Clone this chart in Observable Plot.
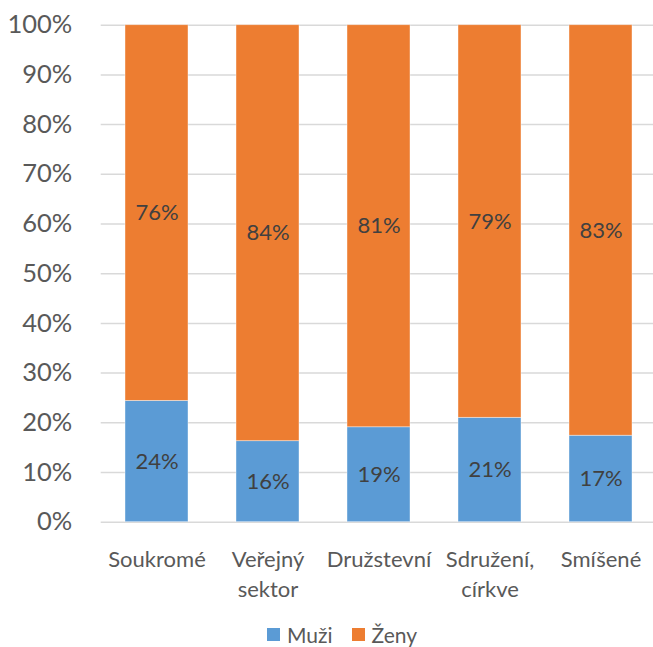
<!DOCTYPE html>
<html>
<head>
<meta charset="utf-8">
<script src="https://cdn.jsdelivr.net/npm/d3@7"></script>
<script src="https://cdn.jsdelivr.net/npm/@observablehq/plot@0.6"></script>
<style>
  html, body { margin: 0; padding: 0; background: #fff; }
  #wrap { position: relative; width: 653px; height: 647px; font-family: Lato, "Noto Sans", sans-serif; }
  #legend { position: absolute; left: 267px; top: 624px; display: flex; align-items: center; font-size: 21px; color: #595959; line-height: 1; }
  #legend .item { display: flex; align-items: center; margin-right: 19px; }
  #legend .sw { width: 13.4px; height: 13.4px; margin-right: 6.6px; }
</style>
</head>
<body>
<div id="wrap"><div id="chart"></div><div id="legend"></div></div>
<script>
const categories = ["Soukromé", "Veřejný sektor", "Družstevní", "Sdružení, církve", "Smíšené"];
const categoryLabels = ["Soukromé", "Veřejný\nsektor", "Družstevní", "Sdružení,\ncírkve", "Smíšené"];
const series = ["Muži", "Ženy"];
const colors = ["#5B9BD5", "#ED7D31"];
const muzi = [0.244, 0.163, 0.191, 0.210, 0.174];
const zeny = [0.756, 0.837, 0.809, 0.790, 0.826];
const yTicks = [0, 0.1, 0.2, 0.3, 0.4, 0.5, 0.6, 0.7, 0.8, 0.9, 1.0];

const data = [];
series.forEach((s, si) => {
  const vals = si === 0 ? muzi : zeny;
  categories.forEach((c, i) => data.push({cat: c, series: s, value: vals[i]}));
});
const labelOf = new Map(categories.map((c, i) => [c, categoryLabels[i]]));

const chart = Plot.plot({
  width: 653,
  height: 612,
  marginLeft: 100.7,
  marginRight: 0,
  marginTop: 24.7,
  marginBottom: 90.3,
  style: {fontFamily: "Lato, 'Noto Sans', sans-serif", background: "#fff"},
  x: {domain: categories, range: [100.7, 656.2], paddingInner: 0.43, paddingOuter: 0.215, axis: null},
  y: {domain: [0, 1], axis: null},
  color: {domain: series, range: colors},
  marks: [
    Plot.ruleY(yTicks, {stroke: "#d9d9d9", strokeWidth: 1.5}),
    Plot.barY(data, {x: "cat", y: "value", fill: "series", stroke: "#ffffff", strokeOpacity: 0.5, strokeWidth: 0.8}),
    Plot.text(data, Plot.stackY({x: "cat", y: "value", z: "series",
      text: d => Math.round(d.value * 100) + "%", fill: "#404040", fontSize: 22})),
    Plot.text(yTicks, {y: d => d, frameAnchor: "left", dx: -29, textAnchor: "end",
      text: d => Math.round(d * 100) + "%", fill: "#595959", fontSize: 25.5}),
    Plot.text(categories, {x: d => d, frameAnchor: "bottom", dy: 24, lineAnchor: "top",
      text: d => labelOf.get(d), fill: "#595959", fontSize: 22, lineHeight: 1.36})
  ]
});
document.getElementById("chart").appendChild(chart);

const legend = document.getElementById("legend");
series.forEach((s, i) => {
  const item = document.createElement("div");
  item.className = "item";
  const sw = document.createElement("div");
  sw.className = "sw";
  sw.style.background = colors[i];
  const t = document.createElement("span");
  t.textContent = s;
  item.appendChild(sw);
  item.appendChild(t);
  legend.appendChild(item);
});
</script>
</body>
</html>
